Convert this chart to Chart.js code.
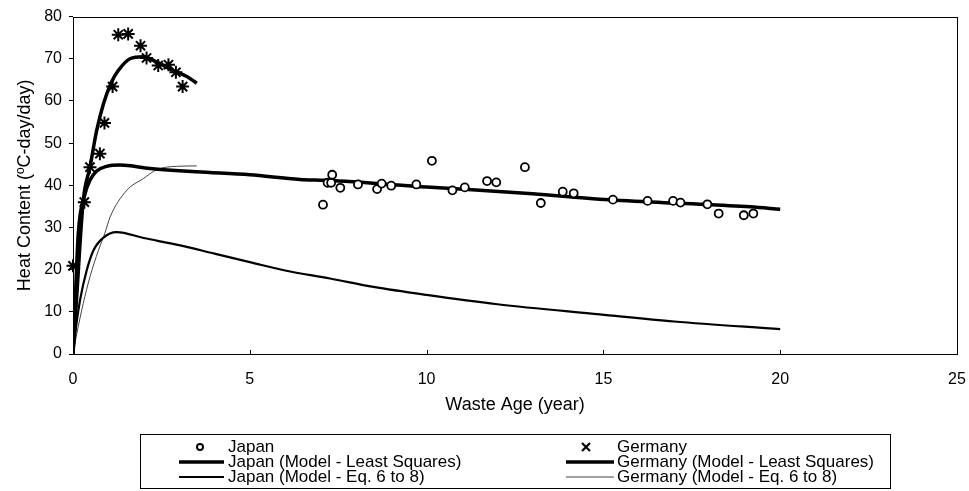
<!DOCTYPE html>
<html>
<head>
<meta charset="utf-8">
<script src="https://cdn.jsdelivr.net/npm/chart.js@4/dist/chart.umd.min.js"></script>
<style>
  body { margin: 0; background: #fff; }
  canvas { display: block; }
</style>
</head>
<body>
<canvas id="heatChart" width="969" height="491"></canvas>
<script>
// measured data (waste age in years, heat content in degC-day/day)
const japanAge  = [7.07, 7.2, 7.3, 7.33, 7.56, 8.06, 8.6, 8.73, 9.0, 9.71, 10.15, 10.73, 11.08, 11.71, 11.97, 12.78, 13.23, 13.85, 14.16, 15.27, 16.25, 16.97, 17.18, 17.94, 18.26, 18.97, 19.24];
const japanHeat = [35.4, 40.6, 40.6, 42.5, 39.4, 40.2, 39.1, 40.4, 39.9, 40.2, 45.8, 38.8, 39.5, 41.0, 40.7, 44.3, 35.8, 38.5, 38.1, 36.6, 36.3, 36.3, 35.9, 35.5, 33.3, 32.9, 33.3];

const germanyAge  = [0.0, 0.32, 0.48, 0.76, 0.89, 1.12, 1.28, 1.56, 1.91, 2.08, 2.41, 2.70, 2.91, 3.10];
const germanyHeat = [20.9, 36.0, 44.3, 47.5, 54.8, 63.4, 75.7, 75.9, 73.1, 70.2, 68.4, 68.6, 66.8, 63.4];

// model curves
const japanLsAge  = [0, 0.05, 0.15, 0.34, 0.48, 0.67, 0.95, 1.33, 2.18, 3.5, 5, 6.42, 7.17, 10, 13, 14.9, 17, 19.15, 20];
const japanLsHeat = [0, 10, 28.6, 38, 41.2, 43.4, 44.5, 44.8, 44.0, 43.2, 42.5, 41.4, 41.2, 39.6, 38.0, 36.7, 35.8, 34.9, 34.3];

const germanyLsAge  = [0, 0.1, 0.29, 0.48, 0.67, 0.86, 1.09, 1.28, 1.61, 1.99, 2.37, 2.84, 3.22, 3.5];
const germanyLsHeat = [0, 13, 36.4, 44.3, 53, 59.3, 64.5, 67.2, 70, 70.5, 69.2, 67.2, 65.8, 64.2];

const japanEqAge  = [0, 0.1, 0.2, 0.39, 0.58, 0.86, 1.23, 2, 3, 4, 5, 6, 7.27, 8.5, 10, 12, 14.9, 17, 20];
const japanEqHeat = [0, 7.3, 12.8, 19.9, 24.6, 27.6, 28.9, 27.5, 25.8, 23.8, 21.8, 19.8, 17.9, 15.9, 14.0, 11.8, 9.4, 7.7, 5.9];

const germanyEqAge  = [0, 0.1, 0.29, 0.48, 0.72, 0.9, 1.05, 1.52, 1.99, 2.37, 2.93, 3.5];
const germanyEqHeat = [0, 4.5, 12, 18.3, 24.6, 28.6, 32.5, 38.8, 41.6, 43.7, 44.5, 44.6];

const seriesNames = [
    "Japan",
    "Germany",
    "Japan (Model - Least Squares)",
    "Germany (Model - Least Squares)",
    "Japan (Model - Eq. 6 to 8)",
    "Germany (Model - Eq. 6 to 8)"
];

const xTicks = [0, 5, 10, 15, 20, 25];
const yTicks = [0, 10, 20, 30, 40, 50, 60, 70, 80];

function toPoints(xs, ys) {
    return xs.map((x, i) => ({ x: x, y: ys[i] }));
}

const FONT = "'Liberation Sans', Arial, Helvetica, sans-serif";

// frame around the plot, inward x ticks and the boxed two-column legend
const framePlugin = {
    id: "frame",
    afterDraw(chart) {
        const ctx = chart.ctx;
        const a = chart.chartArea;
        ctx.save();
        ctx.strokeStyle = "#000";
        ctx.lineWidth = 1;
        ctx.strokeRect(Math.round(a.left) + 0.5, Math.round(a.top) + 0.5,
                       Math.round(a.right - a.left), Math.round(a.bottom - a.top));

        const xs = chart.scales.x;
        ctx.beginPath();
        xTicks.forEach(v => {
            const px = Math.round(xs.getPixelForValue(v)) + 0.5;
            ctx.moveTo(px, a.bottom);
            ctx.lineTo(px, a.bottom - 4);
        });
        ctx.stroke();

        // legend
        const box = { left: 140, top: 434, width: 750, height: 54 };
        ctx.strokeRect(box.left + 0.5, box.top + 0.5, box.width, box.height);
        const rows = [447, 462, 477];
        const cols = [
            { lineFrom: 179, lineTo: 224, mark: 200, text: 228 },
            { lineFrom: 566, lineTo: 614, mark: 586, text: 617 }
        ];
        ctx.font = "17px " + FONT;
        ctx.textBaseline = "middle";
        ctx.fillStyle = "#000";
        chart.data.datasets.forEach((ds, i) => {
            const y = rows[Math.floor(i / 2)];
            const c = cols[i % 2];
            if (ds.showLine) {
                ctx.beginPath();
                ctx.strokeStyle = ds.borderColor;
                ctx.lineWidth = ds.borderWidth;
                ctx.moveTo(c.lineFrom, y);
                ctx.lineTo(c.lineTo, y);
                ctx.stroke();
            } else if (ds.pointStyle === "circle") {
                ctx.beginPath();
                ctx.strokeStyle = "#000";
                ctx.lineWidth = 2;
                ctx.arc(c.mark, y, 3, 0, Math.PI * 2);
                ctx.stroke();
            } else {
                ctx.beginPath();
                ctx.strokeStyle = "#000";
                ctx.lineWidth = 2.2;
                ctx.moveTo(c.mark - 4, y - 4); ctx.lineTo(c.mark + 4, y + 4);
                ctx.moveTo(c.mark - 4, y + 4); ctx.lineTo(c.mark + 4, y - 4);
                ctx.stroke();
            }
            ctx.fillText(ds.label, c.text, y);
        });
        ctx.restore();
    }
};

const lineDefaults = {
    showLine: true,
    pointRadius: 0,
    pointHoverRadius: 0,
    backgroundColor: "transparent",
    cubicInterpolationMode: "monotone",
    fill: false
};

new Chart(document.getElementById("heatChart").getContext("2d"), {
    type: "scatter",
    data: {
        datasets: [
            {
                label: seriesNames[0],
                data: toPoints(japanAge, japanHeat),
                pointStyle: "circle",
                pointRadius: 4,
                backgroundColor: "#fff",
                borderColor: "#000",
                borderWidth: 1.8,
                clip: false
            },
            {
                label: seriesNames[1],
                data: toPoints(germanyAge, germanyHeat),
                pointStyle: "star",
                pointRadius: 6.5,
                backgroundColor: "#000",
                borderColor: "#000",
                borderWidth: 2,
                clip: false
            },
            Object.assign({}, lineDefaults, {
                label: seriesNames[2],
                data: toPoints(japanLsAge, japanLsHeat),
                borderColor: "#000",
                borderWidth: 3.5
            }),
            Object.assign({}, lineDefaults, {
                label: seriesNames[3],
                data: toPoints(germanyLsAge, germanyLsHeat),
                borderColor: "#000",
                borderWidth: 3.5
            }),
            Object.assign({}, lineDefaults, {
                label: seriesNames[4],
                data: toPoints(japanEqAge, japanEqHeat),
                borderColor: "#000",
                borderWidth: 2.2
            }),
            Object.assign({}, lineDefaults, {
                label: seriesNames[5],
                data: toPoints(germanyEqAge, germanyEqHeat),
                borderColor: "#444",
                borderWidth: 1
            })
        ]
    },
    options: {
        responsive: false,
        animation: false,
        devicePixelRatio: 1,
        layout: { padding: { top: 16, right: 12, left: 0, bottom: 67 } },
        plugins: {
            legend: { display: false },
            tooltip: { enabled: false }
        },
        scales: {
            x: {
                type: "linear",
                min: 0,
                max: 25,
                afterFit: scale => { scale.height = 70; },
                afterBuildTicks: scale => { scale.ticks = xTicks.map(v => ({ value: v })); },
                border: { display: false },
                grid: { drawOnChartArea: false, drawTicks: true, tickLength: 14, color: "rgba(0,0,0,0)" },
                ticks: { color: "#000", padding: 2, font: { family: FONT, size: 16 } },
                title: {
                    display: true,
                    text: "Waste Age (year)",
                    color: "#000",
                    padding: { top: 0, bottom: 8 },
                    font: { family: FONT, size: 18 }
                }
            },
            y: {
                type: "linear",
                min: 0,
                max: 80,
                afterFit: scale => { scale.width = 73; },
                afterBuildTicks: scale => { scale.ticks = yTicks.map(v => ({ value: v })); },
                border: { display: false },
                grid: { drawOnChartArea: false, drawTicks: true, tickLength: 4, color: "#000" },
                ticks: { color: "#000", padding: 7, font: { family: FONT, size: 16 } },
                title: {
                    display: true,
                    text: "Heat Content (ºC-day/day)",
                    color: "#000",
                    padding: { top: 14, bottom: 0 },
                    font: { family: FONT, size: 18 }
                }
            }
        }
    },
    plugins: [framePlugin]
});
</script>
</body>
</html>
